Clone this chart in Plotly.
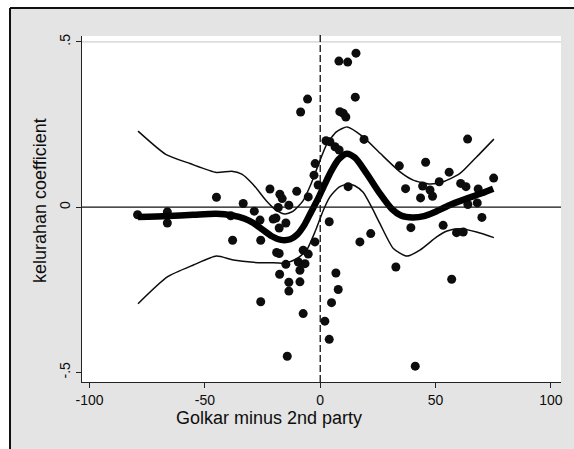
import plotly.graph_objects as go

# ---- data ----
pts_x = [-79.2, -66.3, -66.3, -45.0, -38.8, -38.0, -33.4, -28.6, -26.1, -25.8, -25.8,
         -21.8, -20.4, -19.2, -18.9, -18.2, -17.8, -17.8, -17.6, -17.5, -16.5, -14.9,
         -14.9, -14.3, -13.6, -13.6, -13.6, -10.2, -9.5, -8.8, -8.8, -8.5, -7.4, -7.4,
         -6.6, -5.5, -5.2, -5.2, -2.3, -2.2, -2.7, -0.9, 2.0, 3.9, 4.9, 6.8, 7.8, 3.9,
         2.5, 4.2, 6.4, 8.2, 8.1, 11.9, 15.5, 15.2, 8.5, 10.0, 11.1, 12.1, 19.0, 17.2,
         21.9, 32.8, 34.3, 37.0, 39.3, 41.2, 43.5, 44.4, 45.7, 47.6, 48.7, 51.6, 53.3,
         55.9, 57.0, 59.1, 60.9, 62.0, 63.2, 63.9, 64.0, 68.1, 68.5, 70.1, 75.2]
pts_y = [-0.023, -0.014, -0.048, 0.030, -0.026, -0.100, 0.011, -0.012, -0.039, -0.100, -0.286,
         0.055, -0.036, -0.033, -0.137, -0.001, -0.140, -0.063, -0.203, 0.039, 0.026, -0.048,
         -0.173, -0.451, 0.006, -0.227, -0.254, 0.048, -0.166, -0.191, -0.226, 0.288, -0.130, -0.322,
         -0.171, 0.327, 0.031, -0.142, -0.105, 0.132, 0.097, 0.067, -0.345, -0.400, -0.289, -0.199, -0.249, -0.044,
         0.201, 0.198, 0.183, 0.173, 0.442, 0.439, 0.466, 0.333, 0.289, 0.284, 0.273, 0.062, 0.205, -0.105,
         -0.080, -0.181, 0.125, 0.056, -0.062, -0.481, 0.028, 0.064, 0.136, 0.052, 0.033, 0.077, -0.055,
         0.106, -0.218, -0.077, 0.072, -0.075, 0.062, 0.206, 0.008, 0.013, 0.055, -0.031, 0.088]

fit_x = [-79, -66, -55, -45, -38, -33, -29, -25, -21, -17, -13, -10, -7, -4, -1, 2, 5, 8,
         11.5, 15, 20, 26, 31, 35, 40, 45, 49, 56, 63.5, 70, 75]
fit_y = [-0.030, -0.027, -0.023, -0.020, -0.025, -0.034, -0.048, -0.068, -0.088, -0.099,
         -0.097, -0.083, -0.055, -0.015, 0.025, 0.070, 0.112, 0.145, 0.162, 0.150, 0.103,
         0.040, -0.005, -0.025, -0.031, -0.027, -0.017, 0.006, 0.026, 0.042, 0.056]

up_x = [-79, -67, -56.5, -45, -38.4, -34, -29, -23.2, -19, -15.3, -11.7, -7.4, -4, -1, 2.8,
        7, 11.7, 18.6, 26, 34.6, 40.3, 47.6, 53.3, 60.6, 67.8, 75.3]
up_y = [0.230, 0.160, 0.132, 0.105, 0.109, 0.100, 0.068, 0.018, -0.010, -0.021, -0.012,
        0.020, 0.070, 0.125, 0.190, 0.228, 0.243, 0.213, 0.163, 0.107, 0.082, 0.070, 0.077,
        0.102, 0.152, 0.206]

lo_x = [-79, -66.3, -55, -45, -37.7, -29, -22, -15.3, -10.2, -5.9, -2, 1.3, 4.2, 8, 11.7,
        15, 18.6, 22.3, 25.9, 31.7, 37.5, 43.2, 50.5, 55, 60.6, 67.8, 75.3]
lo_y = [-0.292, -0.211, -0.175, -0.148, -0.160, -0.167, -0.168, -0.169, -0.156, -0.130,
        -0.070, -0.010, 0.031, 0.060, 0.070, 0.065, 0.045, 0.000, -0.050, -0.125, -0.148,
        -0.130, -0.090, -0.072, -0.065, -0.075, -0.092]

x_ticks = [-100, -50, 0, 50, 100]
x_ticklabels = ["-100", "-50", "0", "50", "100"]
y_ticks = [-0.5, 0, 0.5]
y_ticklabels = ["-.5", "0", ".5"]

FONT = "Liberation Sans, Arial, sans-serif"

fig = go.Figure()
fig.add_trace(go.Scatter(x=pts_x, y=pts_y, mode="markers",
                         marker=dict(size=9, color="#0d0d0d"), showlegend=False))
fig.add_trace(go.Scatter(x=up_x, y=up_y, mode="lines",
                         line=dict(color="#0d0d0d", width=1.5, shape="spline", smoothing=0.6),
                         showlegend=False))
fig.add_trace(go.Scatter(x=lo_x, y=lo_y, mode="lines",
                         line=dict(color="#0d0d0d", width=1.5, shape="spline", smoothing=0.6),
                         showlegend=False))
fig.add_trace(go.Scatter(x=fit_x, y=fit_y, mode="lines",
                         line=dict(color="#000000", width=6.5, shape="spline", smoothing=0.8),
                         showlegend=False))

shapes = [
    # white area outside the scanned frame
    dict(type="rect", xref="paper", yref="paper", x0=-0.2, x1=-0.1503, y0=-0.3, y1=1.2,
         fillcolor="white", line=dict(width=0), layer="below"),
    dict(type="rect", xref="paper", yref="paper", x0=-0.2, x1=1.1, y0=1.081, y1=1.2,
         fillcolor="white", line=dict(width=0), layer="below"),
    # frame
    dict(type="line", xref="paper", yref="paper", x0=-0.1503, x1=1.05, y0=1.081, y1=1.081,
         line=dict(color="#111111", width=2)),
    dict(type="line", xref="paper", yref="paper", x0=-0.1503, x1=-0.1503, y0=-0.3, y1=1.081,
         line=dict(color="#111111", width=2)),
    # grid line at .5
    dict(type="line", xref="paper", yref="y", x0=0, x1=1, y0=0.5, y1=0.5,
         line=dict(color="#c4c4c4", width=1), layer="below"),
    # zero line
    dict(type="line", xref="paper", yref="y", x0=0, x1=1, y0=0, y1=0,
         line=dict(color="#111111", width=1.3)),
    # dashed vertical line at 0
    dict(type="line", xref="x", yref="paper", x0=0, x1=0, y0=0, y1=1.008,
         line=dict(color="#111111", width=1.3, dash="7px,3px")),
]

annotations = [
    dict(text="Golkar minus 2nd party", xref="paper", yref="paper", x=0.390, y=-0.105,
         showarrow=False, font=dict(family=FONT, size=18, color="#0d0d0d"),
         xanchor="center", yanchor="middle"),
    dict(text="kelurahan coefficient", xref="paper", yref="paper", x=-0.0877, y=0.526,
         showarrow=False, textangle=-90, font=dict(family=FONT, size=18, color="#0d0d0d"),
         xanchor="center", yanchor="middle"),
]

fig.update_layout(
    width=574, height=449,
    margin=dict(l=82, r=13, t=36, b=67),
    paper_bgcolor="#e4e4e4",
    plot_bgcolor="white",
    font=dict(family=FONT, size=14, color="#0d0d0d"),
    shapes=shapes,
    annotations=annotations,
    xaxis=dict(range=[-103.3, 104.4], tickmode="array", tickvals=x_ticks,
               ticktext=x_ticklabels, showgrid=False, zeroline=False,
               showline=True, linecolor="#222222", linewidth=1.3,
               ticks="outside", ticklen=5, tickcolor="#222222",
               tickfont=dict(size=14)),
    yaxis=dict(range=[-0.529, 0.518], tickmode="array", tickvals=y_ticks,
               ticktext=y_ticklabels, showgrid=False, zeroline=False,
               showline=True, linecolor="#222222", linewidth=1.3,
               ticks="outside", ticklen=5, tickcolor="#222222",
               tickangle=-90, tickfont=dict(size=14)),
)

fig.write_html("out.html")
